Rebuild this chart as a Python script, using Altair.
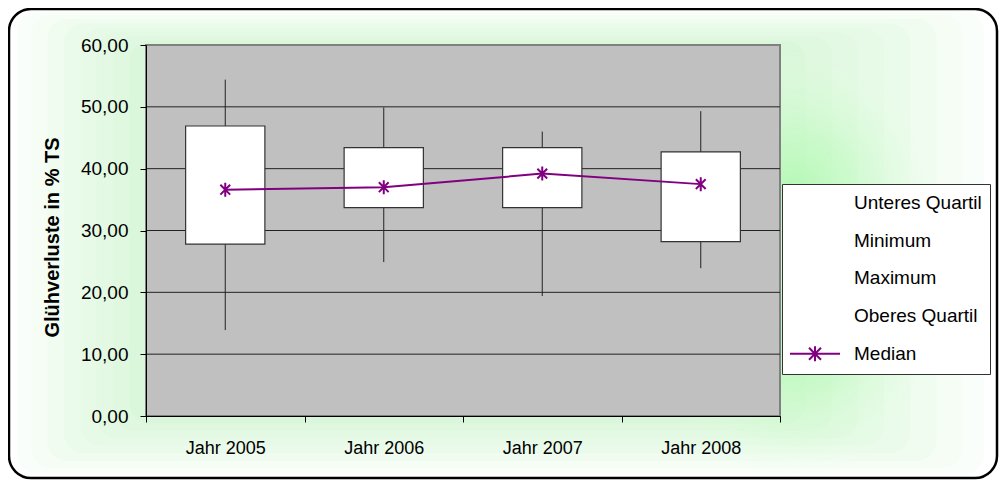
import altair as alt
import pandas as pd

# ---- data ----
categories = ["Jahr 2005", "Jahr 2006", "Jahr 2007", "Jahr 2008"]
minimum = [13.9, 24.9, 19.4, 23.9]
lower_quartile = [27.8, 33.7, 33.7, 28.2]
median = [36.6, 37.0, 39.2, 37.5]
upper_quartile = [46.9, 43.4, 43.4, 42.7]
maximum = [54.4, 49.9, 46.0, 49.3]
y_ticks = [0, 10, 20, 30, 40, 50, 60]
grid_values = [10, 20, 30, 40, 50]
legend_names = ["Unteres Quartil", "Minimum", "Maximum", "Oberes Quartil", "Median"]

df = pd.DataFrame({
    "Jahr": categories,
    "min": minimum,
    "q1": lower_quartile,
    "med": median,
    "q3": upper_quartile,
    "max": maximum,
    "series": ["Median"] * len(categories),
})
grid_df = pd.DataFrame({"v": grid_values})

FONT = "Liberation Sans"
W, H = 634, 371
PAD = {"left": 138, "top": 37, "right": 219, "bottom": 64}

y_scale = alt.Scale(domain=[0, 60], nice=False, zero=True)
x_scale = alt.Scale(paddingInner=0, paddingOuter=0)

y_axis = alt.Axis(
    values=y_ticks,
    labelExpr="replace(format(datum.value, '.2f'), '.', ',')",
    grid=False, tickSize=6, tickColor="black", domainColor="black",
    labelFontSize=19, labelFont=FONT, labelPadding=12, labelColor="black",
    title="Glühverluste in % TS", titleFont=FONT, titleFontSize=20,
    titleFontWeight="bold", titleColor="black",
    titleX=-94, titleY=192, titleAngle=270, titleBaseline="middle",
    titleAlign="center", zindex=1,
)
x_axis = alt.Axis(
    title=None, tickBand="extent", tickSize=6, tickColor="black",
    domainColor="black", labelFontSize=18, labelFont=FONT, labelColor="black",
    labelPadding=17, labelAngle=0, grid=False, zindex=1,
)


def X():
    return alt.X("Jahr:N", sort=categories, scale=x_scale, axis=x_axis)


def Y(field):
    return alt.Y(f"{field}:Q", scale=y_scale, axis=y_axis)


one = alt.Data(values=[{"k": 1}])

# ---- chart-area decoration (frame + soft green glow) ----
FL, FT = -137, -36
FR, FB = W + PAD["right"] - 2, H + PAD["bottom"] - 2

frame_fill = alt.Chart(one).mark_rect(fill="white", cornerRadius=22).encode(
    x=alt.value(FL), x2=alt.value(FR), y=alt.value(FT), y2=alt.value(FB)
)

glow_layers = []
for f in [0.12, 0.24, 0.36, 0.48, 0.6, 0.72, 0.84, 0.94]:
    glow_layers.append(
        alt.Chart(one).mark_rect(fill="#a8eea8", opacity=0.055, cornerRadius=20).encode(
            x=alt.value(FL * f), x2=alt.value(W + (FR - W) * f),
            y=alt.value(FT * f), y2=alt.value(H + (FB - H) * f),
        )
    )

spot_grad = alt.RadialGradient(
    gradient="radial",
    stops=[
        alt.GradientStop(color="rgba(175,248,175,0.85)", offset=0),
        alt.GradientStop(color="rgba(190,250,190,0.6)", offset=0.4),
        alt.GradientStop(color="rgba(210,252,210,0.25)", offset=0.75),
        alt.GradientStop(color="rgba(230,255,230,0)", offset=1),
    ],
    x1=0.5, y1=0.5, r1=0, x2=0.5, y2=0.5, r2=0.5,
)
for cy in [145, 290]:
    glow_layers.append(
        alt.Chart(one).mark_rect(fill=spot_grad).encode(
            x=alt.value(649 - 140), x2=alt.value(649 + 140),
            y=alt.value(cy - 140), y2=alt.value(cy + 140),
        )
    )

frame_line = alt.Chart(one).mark_rect(
    fill="transparent", stroke="black", strokeWidth=2.5, cornerRadius=22
).encode(x=alt.value(FL), x2=alt.value(FR), y=alt.value(FT), y2=alt.value(FB))

plot_bg = alt.Chart(one).mark_rect(
    fill="#c0c0c0", stroke="#808080", strokeWidth=2
).encode(x=alt.value(0), x2=alt.value(W), y=alt.value(0), y2=alt.value(H))

# ---- data marks ----
grid = alt.Chart(grid_df).mark_rule(color="#222222", strokeWidth=1).encode(y=Y("v"))

whisker_low = alt.Chart(df).mark_rule(color="#222222", strokeWidth=1).encode(
    x=X(), y=Y("min"), y2="q1:Q"
)
whisker_high = alt.Chart(df).mark_rule(color="#222222", strokeWidth=1).encode(
    x=X(), y=Y("q3"), y2="max:Q"
)
boxes = alt.Chart(df).mark_bar(
    fill="white", stroke="#333333", strokeWidth=1.2,
    width=alt.RelativeBandSize(0.5),
).encode(x=X(), y=Y("q1"), y2="q3:Q")

legend_symbol = (
    "M-2.5,0H2.5M-0.6,-0.6L0.6,0.6M-0.6,0.6L0.6,-0.6M0,-0.75V0.75"
)
median_line = alt.Chart(df).mark_line(strokeWidth=2).encode(
    x=X(), y=Y("med"),
    stroke=alt.Stroke(
        "series:N",
        scale=alt.Scale(domain=legend_names,
                        range=["transparent"] * 4 + ["#800080"]),
        legend=alt.Legend(
            title=None, orient="none", legendX=636, legendY=139,
            symbolType=legend_symbol, symbolSize=400, symbolStrokeWidth=2,
            symbolFillColor="transparent",
            labelFontSize=19, labelFont=FONT, labelColor="black",
            fillColor="white", strokeColor="#333333", padding=8,
            rowPadding=13.7, labelOffset=28, symbolOffset=14,
        ),
    ),
)
median_pts = alt.Chart(df).mark_point(
    shape="M-0.7,-0.7L0.7,0.7M-0.7,0.7L0.7,-0.7M0,-1V1",
    size=196, filled=False, stroke="#800080", strokeWidth=2, opacity=1,
).encode(x=X(), y=Y("med"))

chart = alt.layer(
    frame_fill, *glow_layers, frame_line, plot_bg, grid,
    whisker_low, whisker_high, boxes, median_line, median_pts
).properties(
    width=W, height=H, padding=PAD,
    autosize=alt.AutoSizeParams(type="none"),
).configure_view(strokeWidth=0)

chart.save("out.html", embed_options={"renderer": "svg", "actions": False})
